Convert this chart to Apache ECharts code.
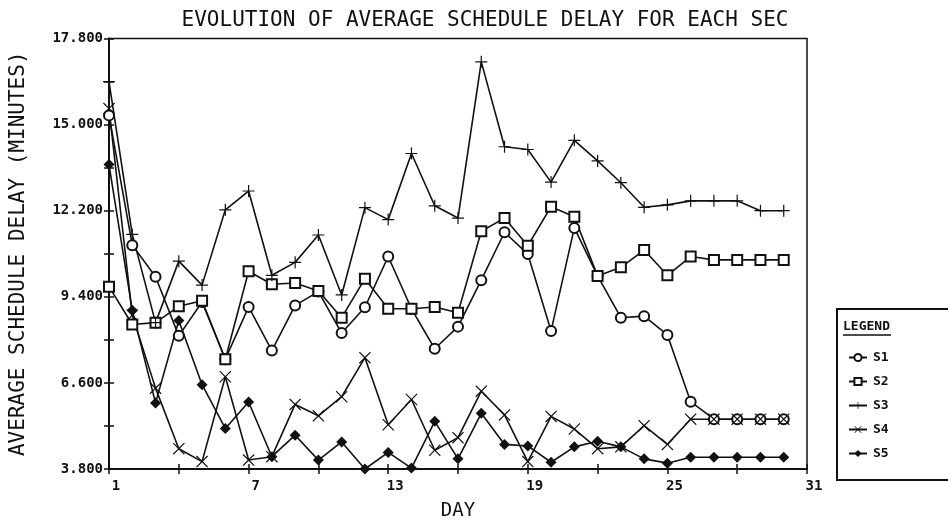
<!DOCTYPE html>
<html>
<head>
<meta charset="utf-8">
<script src="https://cdn.jsdelivr.net/npm/echarts@6/dist/echarts.min.js"></script>
<style>
html,body{margin:0;padding:0;background:#fff;}
#chart{width:948px;height:526px;}
</style>
</head>
<body>
<div id="chart"></div>
<script>
var dayCategories = ['1','2','3','4','5','6','7','8','9','10','11','12','13','14','15','16','17','18','19','20','21','22','23','24','25','26','27','28','29','30','31'];
var yTicks = { min: 3.8, max: 17.8, step: 2.8 };

var S1 = [15.3, 11.08, 10.05, 8.13, 9.23, 7.37, 9.07, 7.65, 9.12, 9.57, 8.22, 9.06, 10.71, 9.01, 7.71, 8.43, 9.94, 11.5, 10.79, 8.29, 11.64, 10.08, 8.72, 8.77, 8.16, 5.99, 5.42, 5.42, 5.42, 5.42];
var S2 = [9.73, 8.5, 8.56, 9.09, 9.27, 7.37, 10.23, 9.81, 9.85, 9.59, 8.72, 9.99, 9.01, 9.01, 9.07, 8.88, 11.53, 11.96, 11.06, 12.33, 12.0, 10.08, 10.36, 10.92, 10.1, 10.71, 10.6, 10.6, 10.6, 10.6];
var S3 = [16.4, 11.43, 8.56, 10.56, 9.78, 12.23, 12.84, 10.1, 10.52, 11.41, 9.46, 12.3, 11.91, 14.06, 12.36, 11.96, 17.04, 14.28, 14.19, 13.13, 14.49, 13.82, 13.11, 12.31, 12.39, 12.52, 12.52, 12.52, 12.2, 12.2];
var S4 = [15.52, 8.8, 6.43, 4.46, 4.04, 6.8, 4.09, 4.2, 5.9, 5.53, 6.15, 7.42, 5.24, 6.06, 4.41, 4.82, 6.33, 5.56, 4.04, 5.51, 5.1, 4.46, 4.52, 5.21, 4.6, 5.42, 5.42, 5.42, 5.42, 5.42];
var S5 = [13.7, 8.96, 5.95, 8.63, 6.54, 5.12, 5.98, 4.2, 4.9, 4.09, 4.68, 3.8, 4.34, 3.83, 5.35, 4.13, 5.61, 4.6, 4.55, 4.02, 4.52, 4.7, 4.52, 4.13, 3.99, 4.18, 4.18, 4.18, 4.18, 4.18];

var seriesNames = ['S1','S2','S3','S4','S5'];
var seriesValues = [S1, S2, S3, S4, S5];

var PLUS = 'path://M9,0 L11,0 L11,9 L20,9 L20,11 L11,11 L11,20 L9,20 L9,11 L0,11 L0,9 L9,9 Z';
var CROSS = 'path://M0,1.4 L1.4,0 L10,8.6 L18.6,0 L20,1.4 L11.4,10 L20,18.6 L18.6,20 L10,11.4 L1.4,20 L0,18.6 L8.6,10 Z';
var symbols = ['emptyCircle', 'emptyRect', PLUS, CROSS, 'diamond'];
var symbolSizes = [10, 10, 12, 12, 11];

var MONO = '"DejaVu Sans Mono", "Liberation Mono", monospace';

var chart = echarts.init(document.getElementById('chart'), null, {renderer: 'canvas'});

var series = seriesNames.map(function (name, i) {
  return {
    name: name,
    type: 'line',
    xAxisIndex: 0,
    yAxisIndex: 0,
    data: seriesValues[i],
    symbol: symbols[i],
    symbolSize: symbolSizes[i],
    showAllSymbol: true,
    animation: false,
    lineStyle: {color: '#111', width: 1.6},
    itemStyle: {color: '#111', borderColor: '#111', borderWidth: (i < 2 ? 1.7 : 0)},
    emphasis: {disabled: true}
  };
});

var option = {
  animation: false,
  backgroundColor: '#fff',
  title: {
    text: 'EVOLUTION OF AVERAGE SCHEDULE DELAY FOR EACH SEC',
    left: 480,
    top: 5,
    textAlign: 'center',
    textStyle: {fontFamily: MONO, fontSize: 21, fontWeight: 'normal', color: '#111'}
  },
  grid: {
    left: 104, right: 141, top: 38.5, bottom: 48,
    show: true, borderColor: '#111', borderWidth: 1.5, backgroundColor: 'transparent'
  },
  legend: {
    orient: 'vertical',
    left: 843,
    top: 346,
    itemWidth: 18,
    itemHeight: 9,
    itemGap: 11,
    data: seriesNames,
    selectedMode: false,
    textStyle: {fontFamily: MONO, fontSize: 13, fontWeight: 'bold', color: '#111', padding: [0, 0, 0, 1]}
  },
  xAxis: [{
    type: 'category',
    data: dayCategories,
    boundaryGap: false,
    name: 'DAY',
    nameLocation: 'middle',
    nameGap: 33,
    nameTextStyle: {fontFamily: MONO, fontSize: 19, color: '#111'},
    axisLine: {lineStyle: {color: '#111', width: 2}},
    axisTick: {show: true, interval: 2, length: 5, lineStyle: {color: '#111', width: 1.5}},
    axisLabel: {interval: 5, margin: 10, padding: [0, 0, 0, 14], fontFamily: MONO, fontSize: 14, fontWeight: 'bold', color: '#111'},
    splitLine: {show: false}
  }, {
    type: 'category',
    data: dayCategories,
    boundaryGap: false,
    position: 'bottom',
    axisLine: {show: false},
    axisTick: {show: true, inside: true, interval: 2, length: 5, lineStyle: {color: '#111', width: 1.5}},
    axisLabel: {show: false},
    splitLine: {show: false}
  }],
  yAxis: [{
    type: 'value',
    min: yTicks.min,
    max: yTicks.max,
    interval: yTicks.step,
    name: 'AVERAGE SCHEDULE DELAY (MINUTES)',
    nameLocation: 'middle',
    nameGap: 80,
    nameRotate: 90,
    nameTextStyle: {fontFamily: MONO, fontSize: 21, color: '#111'},
    axisLine: {show: true, lineStyle: {color: '#111', width: 2}},
    axisTick: {show: true, length: 5, lineStyle: {color: '#111', width: 1.5}},
    minorTick: {show: true, splitNumber: 2, length: 5, lineStyle: {color: '#111', width: 1.5}},
    axisLabel: {
      margin: 6, fontFamily: MONO, fontSize: 14, fontWeight: 'bold', color: '#111',
      formatter: function (v) { return v.toFixed(3); }
    },
    splitLine: {show: false}
  }, {
    type: 'value',
    min: yTicks.min,
    max: yTicks.max,
    interval: yTicks.step,
    position: 'left',
    axisLine: {show: false},
    axisTick: {show: true, inside: true, length: 5, lineStyle: {color: '#111', width: 1.5}},
    minorTick: {show: true, splitNumber: 2, length: 5, lineStyle: {color: '#111', width: 1.5}},
    axisLabel: {show: false},
    splitLine: {show: false}
  }],
  graphic: [
    {type: 'rect', shape: {x: 837, y: 309, width: 130, height: 171},
     style: {fill: 'transparent', stroke: '#111', lineWidth: 2}, silent: true},
    {type: 'text', x: 843, y: 320,
     style: {text: 'LEGEND', fontFamily: MONO, fontSize: 13, fontWeight: 'bold', fill: '#111'}, silent: true},
    {type: 'line', shape: {x1: 843, y1: 335, x2: 891, y2: 335},
     style: {stroke: '#111', lineWidth: 1.5}, silent: true}
  ],
  series: series
};
chart.setOption(option);
</script>
</body>
</html>
